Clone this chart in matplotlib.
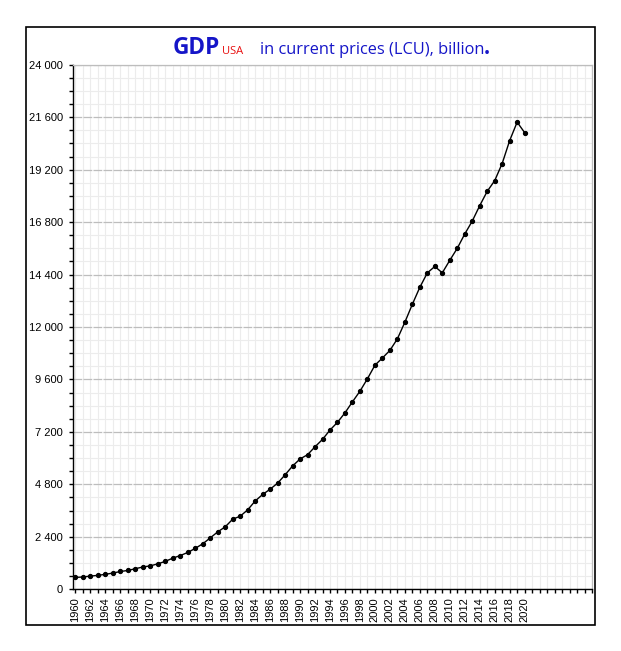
import numpy as np
import matplotlib
matplotlib.use("Agg")
import matplotlib.pyplot as plt
from matplotlib.ticker import MultipleLocator, FuncFormatter
from matplotlib.patches import Rectangle

# US GDP, current prices, billion LCU
years = list(range(1960, 2021))
gdp = [543.3, 563.3, 605.1, 638.6, 685.8, 743.7, 815.0, 861.7, 942.5, 1019.9,
       1073.3, 1164.9, 1279.1, 1425.4, 1545.2, 1684.9, 1873.4, 2081.8, 2351.6, 2627.3,
       2857.3, 3207.0, 3343.8, 3634.0, 4037.6, 4339.0, 4579.6, 4855.2, 5236.4, 5641.6,
       5963.1, 6158.1, 6520.3, 6858.6, 7287.2, 7639.7, 8073.1, 8577.6, 9062.8, 9631.2,
       10251.0, 10581.9, 10929.1, 11456.5, 12217.2, 13039.2, 13815.6, 14474.2, 14769.9, 14478.1,
       15049.0, 15599.7, 16254.0, 16843.2, 17550.7, 18206.0, 18695.1, 19479.6, 20527.2, 21372.6,
       20893.7]
xlabels = [str(y) for y in range(1960, 2021, 2)]

W, H = 621, 651
fig = plt.figure(figsize=(W / 100, H / 100), dpi=100)
ax = fig.add_axes([72.5 / W, 1 - 589.3 / H, (592 - 72.5) / W, (589.3 - 64.7) / H])

ax.plot(years, gdp, color="black", lw=1.0, marker="o", ms=2.8, zorder=3)

ax.set_xlim(1959.6, 2029)
ax.set_ylim(0, 24000)

# ticks
ax.set_xticks(range(1960, 2021, 2))
ax.set_xticklabels(xlabels, rotation=90)
ax.xaxis.set_minor_locator(MultipleLocator(1))
ax.yaxis.set_major_locator(MultipleLocator(2400))
ax.yaxis.set_minor_locator(MultipleLocator(600))
ax.yaxis.set_major_formatter(FuncFormatter(lambda v, p: f"{int(v):,}".replace(",", " ")))

ax.tick_params(axis="both", which="both", direction="out", length=3, width=1, color="black")
ax.tick_params(axis="x", which="major", labelsize=8, pad=2.5)
ax.tick_params(axis="y", which="major", labelsize=8, pad=4.0)
for lab in ax.get_xticklabels() + ax.get_yticklabels():
    lab.set_fontfamily("Liberation Sans")

# grid
ax.grid(which="minor", color="#ececec", lw=0.8)
ax.grid(which="major", axis="x", color="#ececec", lw=0.8)
ax.grid(which="major", axis="y", color="#bdbdbd", lw=0.9, linestyle=(0, (7, 1)))
ax.set_axisbelow(True)

for s in ["top", "right"]:
    ax.spines[s].set_color("#bdbdbd")
    ax.spines[s].set_linewidth(0.9)
for s in ["left", "bottom"]:
    ax.spines[s].set_color("black")
    ax.spines[s].set_linewidth(1.0)

# title pieces
base = 1 - 54.3 / H
fig.text(173 / W, base, "GDP", color="#1515c8", fontsize=16.3, fontweight="bold",
         family="Open Sans", va="baseline")
fig.text(222 / W, base, "USA", color="#e81010", fontsize=8,
         family="Open Sans", va="baseline")
fig.text(260 / W, base, "in current prices (LCU), billion", color="#1515c8", fontsize=11.8,
         family="Open Sans", va="baseline")
fig.text(484 / W, base, ".", color="#1515c8", fontsize=15, fontweight="bold",
         family="Open Sans", va="baseline")

# outer frame
fig.patches.append(Rectangle((26 / W, 1 - 625 / H), (595 - 26) / W, (625 - 27) / H,
                             transform=fig.transFigure, fill=False, ec="black", lw=1.2))

fig.savefig("out.png", dpi=100)
